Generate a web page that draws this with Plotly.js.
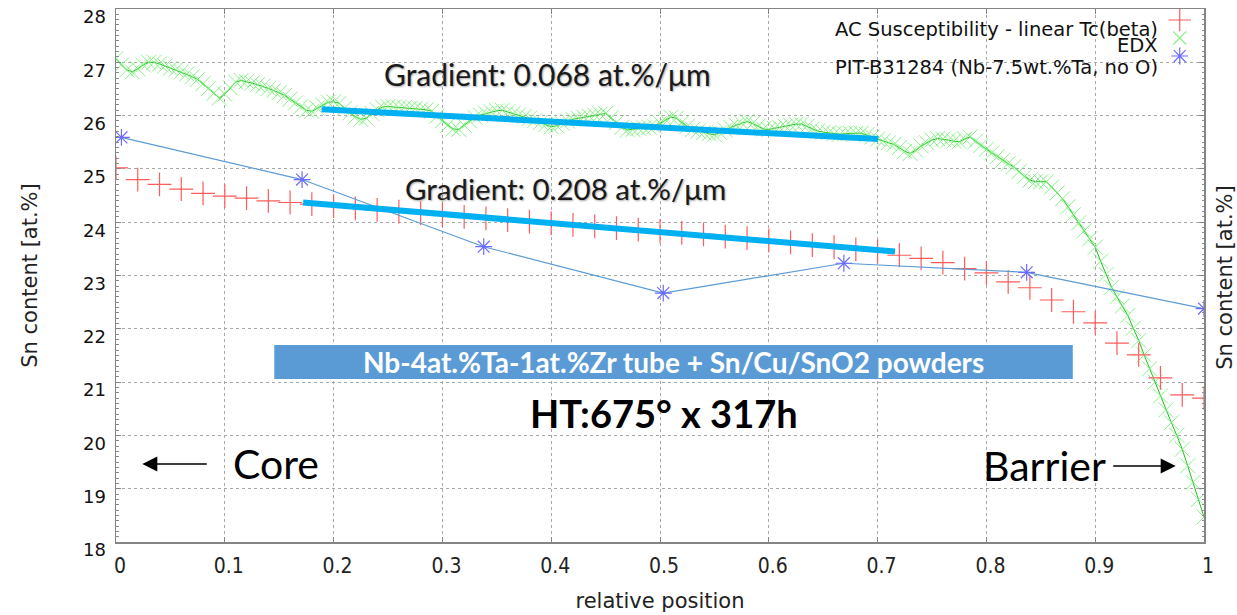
<!DOCTYPE html>
<html><head><meta charset="utf-8">
<script src="https://cdn.plot.ly/plotly-3.0.1.min.js"></script>
<style>html,body{margin:0;padding:0;background:#fff}#chart{width:1237px;height:615px}</style>
</head><body><div id="chart"></div>
<script>
// ---- data ----
const acX = [0,0.02,0.04,0.06,0.08,0.10,0.12,0.14,0.16,0.18,
  0.20,0.22,0.24,0.26,0.28,0.30,0.32,0.34,0.36,0.38,
  0.40,0.42,0.44,0.46,0.48,0.50,0.52,0.54,0.56,0.58,
  0.60,0.62,0.64,0.66,0.68,0.70,0.72,0.74,0.76,0.78,
  0.80,0.82,0.84,0.86,0.88,0.90,0.92,0.94,0.96,0.98,1.00];
const acY = [25.02,24.80,24.71,24.62,24.54,24.49,24.45,24.40,24.37,24.34,
  24.30,24.26,24.23,24.20,24.17,24.14,24.10,24.07,24.04,24.01,
  23.98,23.95,23.92,23.89,23.86,23.83,23.80,23.77,23.73,23.70,
  23.66,23.62,23.57,23.53,23.49,23.45,23.38,23.32,23.24,23.13,
  23.05,22.88,22.77,22.54,22.32,22.11,21.73,21.51,21.08,20.76,20.70];

const edxX = [0,0.005,0.01,0.015,0.02,0.025,0.03,0.035,0.04,0.045,
  0.05,0.055,0.06,0.065,0.07,0.075,0.08,0.085,0.09,0.095,
  0.10,0.105,0.11,0.115,0.12,0.125,0.13,0.135,0.14,0.145,
  0.15,0.155,0.16,0.165,0.17,0.175,0.18,0.185,0.19,0.195,
  0.20,0.205,0.21,0.215,0.22,0.225,0.23,0.235,0.24,0.245,
  0.25,0.255,0.26,0.265,0.27,0.275,0.28,0.285,0.29,0.295,
  0.30,0.305,0.31,0.315,0.32,0.325,0.33,0.335,0.34,0.345,
  0.35,0.355,0.36,0.365,0.37,0.375,0.38,0.385,0.39,0.395,
  0.40,0.405,0.41,0.415,0.42,0.425,0.43,0.435,0.44,0.445,
  0.45,0.455,0.46,0.465,0.47,0.475,0.48,0.485,0.49,0.495,
  0.50,0.505,0.51,0.515,0.52,0.525,0.53,0.535,0.54,0.545,
  0.55,0.555,0.56,0.565,0.57,0.575,0.58,0.585,0.59,0.595,
  0.60,0.605,0.61,0.615,0.62,0.625,0.63,0.635,0.64,0.645,
  0.65,0.655,0.66,0.665,0.67,0.675,0.68,0.685,0.69,0.695,
  0.70,0.705,0.71,0.715,0.72,0.725,0.73,0.735,0.74,0.745,
  0.75,0.755,0.76,0.765,0.77,0.775,0.78,0.785,0.79,0.795,
  0.80,0.805,0.81,0.815,0.82,0.825,0.83,0.835,0.84,0.845,
  0.85,0.855,0.86,0.865,0.87,0.875,0.88,0.885,0.89,0.895,
  0.90,0.905,0.91,0.915,0.92,0.925,0.93,0.935,0.94,0.945,
  0.95,0.955,0.96,0.965,0.97,0.975,0.98,0.985,0.99,0.995,
  1.00];
const edxY = [27.07,26.95,26.86,26.82,26.88,26.95,27.00,27.00,26.97,26.93,
  26.89,26.86,26.82,26.78,26.73,26.68,26.60,26.51,26.42,26.33,
  26.40,26.52,26.63,26.66,26.64,26.61,26.58,26.55,26.51,26.47,
  26.43,26.38,26.31,26.24,26.17,26.10,26.08,26.14,26.20,26.25,
  26.26,26.23,26.14,26.05,25.98,25.93,25.95,26.04,26.11,26.16,
  26.17,26.16,26.15,26.15,26.14,26.13,26.12,26.11,26.08,25.99,
  25.90,25.82,25.75,25.74,25.82,25.90,25.97,26.01,26.04,26.07,
  26.09,26.10,26.07,26.04,26.01,25.98,25.95,25.91,25.87,25.83,
  25.79,25.81,25.86,25.90,25.93,25.95,25.97,25.99,26.01,26.03,
  26.04,25.96,25.87,25.78,25.73,25.74,25.76,25.77,25.78,25.80,
  25.86,25.92,25.97,25.95,25.87,25.80,25.74,25.71,25.68,25.66,
  25.64,25.68,25.73,25.78,25.82,25.86,25.89,25.85,25.80,25.75,
  25.74,25.76,25.78,25.80,25.82,25.84,25.84,25.80,25.75,25.71,
  25.69,25.68,25.66,25.65,25.66,25.67,25.67,25.67,25.64,25.60,
  25.56,25.52,25.49,25.46,25.40,25.33,25.29,25.35,25.43,25.49,
  25.54,25.57,25.56,25.54,25.52,25.51,25.56,25.60,25.52,25.44,
  25.37,25.30,25.23,25.16,25.10,25.04,24.95,24.86,24.79,24.76,
  24.76,24.76,24.66,24.55,24.44,24.29,24.14,23.99,23.84,23.69,
  23.53,23.27,23.02,22.78,22.60,22.43,22.25,22.01,21.78,21.51,
  21.25,21.00,20.74,20.48,20.24,20.00,19.74,19.43,19.12,18.80,
  18.47];

const pitX = [0.005,0.171,0.338,0.503,0.669,0.837,1.0];
const pitY = [25.59,24.80,23.54,22.67,23.23,23.06,22.38];

const fitEdxX = [0.189,0.7006];
const fitEdxY = [26.12,25.56];
const fitAcX  = [0.172,0.716];
const fitAcY  = [24.37,23.45];

const seriesNames = ['AC Susceptibility - linear Tc(beta)','EDX','PIT-B31284 (Nb-7.5wt.%Ta, no O)'];
const xTickVals = [0,0.1,0.2,0.3,0.4,0.5,0.6,0.7,0.8,0.9,1];
const xTickText = ['0','0.1','0.2','0.3','0.4','0.5','0.6','0.7','0.8','0.9','1'];
const yTickVals = [18,19,20,21,22,23,24,25,26,27,28];
const yTickText = ['18','19','20','21','22','23','24','25','26','27','28'];

// legend key positions (fraction of plot area)
const legendKeyX = [0.9777,0.9777,0.9777];
const legendKeyY = [0.9794,0.9456,0.9118];

// ---- styles ----
const RED = '#ff5b5b', GREEN = 'rgba(110,238,110,0.8)', GREENLINE = '#22c022',
      BLUEM = '#6b6bff', BLUEL = '#5b9bd5', CYAN = '#00b0f0';
const tickFontY = {family:'DejaVu Sans, Verdana, sans-serif', size:18, color:'#111'};
const tickFontX = {family:'Liberation Sans Narrow, DejaVu Sans Condensed, Arial Narrow, sans-serif', size:21, color:'#222'};
const titleFont = {family:'DejaVu Sans, Verdana, sans-serif', size:21, color:'#222'};

const traces = [
  {x:edxX, y:edxY, type:'scatter', mode:'lines+markers', name:seriesNames[1],
   line:{color:GREENLINE, width:1},
   marker:{symbol:'x-thin-open', size:15, color:GREEN, line:{width:1, color:GREEN}}},
  {x:acX, y:acY, type:'scatter', mode:'markers', name:seriesNames[0],
   marker:{symbol:'cross-thin-open', size:17, color:RED, line:{width:1.2, color:RED}}},
  {x:pitX, y:pitY, type:'scatter', mode:'lines', name:seriesNames[2],
   line:{color:BLUEL, width:1.2}},
  {x:pitX, y:pitY, type:'scatter', mode:'markers', name:seriesNames[2],
   marker:{symbol:'asterisk-open', size:14, color:BLUEM, line:{width:1.2, color:BLUEM}}},
  {x:fitEdxX, y:fitEdxY, type:'scatter', mode:'lines', line:{color:CYAN, width:6}},
  {x:fitAcX, y:fitAcY, type:'scatter', mode:'lines', line:{color:CYAN, width:6}},
  // legend keys
  {x:[legendKeyX[0]], y:[legendKeyY[0]], xaxis:'x2', yaxis:'y2', mode:'markers', type:'scatter',
   marker:{symbol:'cross-thin-open', size:16, color:RED, line:{width:1.2, color:RED}}},
  {x:[legendKeyX[1]], y:[legendKeyY[1]], xaxis:'x2', yaxis:'y2', mode:'markers', type:'scatter',
   marker:{symbol:'x-thin-open', size:13, color:GREEN, line:{width:1.2, color:GREEN}}},
  {x:[legendKeyX[2]], y:[legendKeyY[2]], xaxis:'x2', yaxis:'y2', mode:'markers', type:'scatter',
   marker:{symbol:'asterisk-open', size:14, color:BLUEM, line:{width:1.2, color:BLUEM}}}
];

const calibri = 'Lato, Carlito, Calibri, sans-serif';
const legendFont = {family:'DejaVu Sans, Verdana, sans-serif', size:19.5, color:'#111'};

function txt(x, y, text, font, extra) {
  return Object.assign({xref:'paper', yref:'paper', x:x, y:y, xanchor:'center', yanchor:'middle',
    showarrow:false, text:text, font:font}, extra || {});
}

const layout = {
  width:1237, height:615,
  margin:{l:116, r:33, t:9, b:73, pad:0},
  paper_bgcolor:'#fff', plot_bgcolor:'#fff',
  showlegend:false,
  xaxis:{
    range:[0,1], tickmode:'array', tickvals:xTickVals, ticktext:xTickText,
    showgrid:true, gridcolor:'#a8a8a8', griddash:'dot', gridwidth:1,
    zeroline:false, showline:true, linecolor:'#858585', linewidth:1.5, mirror:'ticks',
    ticks:'inside', ticklen:5, tickcolor:'#858585', tickwidth:1,
    tickfont:tickFontX, ticklabelshift:4, ticklabelstandoff:4,
    title:{text:'relative position', font:titleFont, standoff:16}
  },
  yaxis:{
    range:[18,28], tickmode:'array', tickvals:yTickVals, ticktext:yTickText,
    showgrid:true, gridcolor:'#a8a8a8', griddash:'dot', gridwidth:1,
    zeroline:false, showline:true, linecolor:'#858585', linewidth:1.5, mirror:'ticks',
    ticks:'inside', ticklen:5, tickcolor:'#858585', tickwidth:1,
    minor:{dtick:0.1, ticks:'inside', ticklen:2.5, tickcolor:'#8a8a8a', tickwidth:1, showgrid:false},
    tickfont:tickFontY, ticklabelshift:8, ticklabelstandoff:5,
    title:{text:'Sn content [at.%]', font:titleFont, standoff:39}
  },
  xaxis2:{overlaying:'x', anchor:'y2', range:[0,1], visible:false, fixedrange:true},
  yaxis2:{overlaying:'y', anchor:'x2', range:[0,1], visible:false, fixedrange:true},
  shapes:[
    {type:'rect', xref:'paper', yref:'paper', x0:0.1455, x1:0.8794, y0:0.3058, y1:0.3696,
     fillcolor:'#5b9bd5', line:{width:0}, layer:'above'}
  ],
  annotations:[
    // legend text
    txt(0.9593, 0.9610, seriesNames[0], legendFont, {xanchor:'right'}),
    txt(0.9593, 0.9306, seriesNames[1], legendFont, {xanchor:'right'}),
    txt(0.9593, 0.8900, seriesNames[2], legendFont, {xanchor:'right'}),
    // right axis title
    txt(1.019, 0.497, 'Sn content [at.%]', titleFont, {textangle:-90}),
    // gradients
    txt(0.397, 0.878, 'Gradient: 0.068 at.%/μm',
        {family:calibri, size:30, color:'#1a1a1a', shadow:'1px 1px 2px rgba(0,0,0,0.35)'}),
    txt(0.413, 0.664, 'Gradient: 0.208 at.%/μm',
        {family:calibri, size:29.5, color:'#1a1a1a', shadow:'1px 1px 2px rgba(0,0,0,0.35)'}),
    // box text
    txt(0.512, 0.3377, 'Nb-4at.%Ta-1at.%Zr tube + Sn/Cu/SnO2 powders',
        {family:calibri, size:28, color:'#ffffff', weight:'bold'}),
    // HT
    txt(0.5037, 0.242, '<b>HT:675° x 317h</b>', {family:calibri, size:38, color:'#000'}),
    // Core
    txt(0.1474, 0.148, 'Core', {family:calibri, size:41, color:'#000'}),
    {xref:'paper', yref:'paper', x:0.0242, y:0.1463, showarrow:true, text:'', ax:66, ay:0,
     arrowhead:2, arrowsize:2, arrowwidth:1.5, arrowcolor:'#000'},
    // Barrier
    txt(0.8537, 0.1426, 'Barrier', {family:calibri, size:41, color:'#000'}),
    {xref:'paper', yref:'paper', x:0.974, y:0.1426, showarrow:true, text:'', ax:-64, ay:0,
     arrowhead:2, arrowsize:2, arrowwidth:1.5, arrowcolor:'#000'}
  ]
};

Plotly.newPlot('chart', traces, layout, {displayModeBar:false, staticPlot:true});
</script>
</body></html>
